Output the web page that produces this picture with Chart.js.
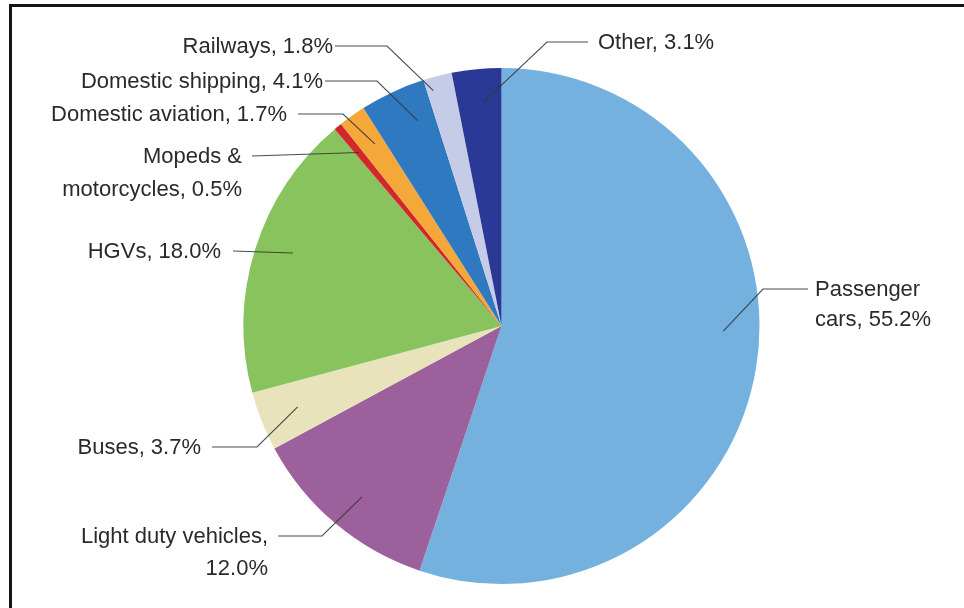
<!DOCTYPE html>
<html>
<head>
<meta charset="utf-8">
<script src="https://cdn.jsdelivr.net/npm/chart.js@4"></script>
<style>
  body { margin: 0; background: #fff; overflow: hidden; }
  #wrap { position: relative; width: 964px; height: 608px; }
  #frame { position: absolute; left: 9px; top: 4px; width: 970px; height: 620px;
           border-top: 3px solid #151515; border-left: 3px solid #151515; }
  canvas { position: absolute; left: 0; top: 0; }
</style>
</head>
<body>
<div id="wrap">
  <canvas id="myChart" width="964" height="608"></canvas>
  <div id="frame"></div>
</div>
<script>
// transport emissions share by mode, clockwise from 12 o'clock
var categories = ["Passenger cars", "Light duty vehicles", "Buses", "HGVs", "Mopeds & motorcycles",
                  "Domestic aviation", "Domestic shipping", "Railways", "Other"];
var shares = [55.2, 12.0, 3.7, 18.0, 0.5, 1.7, 4.1, 1.8, 3.1];
var sliceColors = ["#74b1df", "#9c619c", "#e8e3ba", "#88c35e", "#d3282b",
                   "#f4a83a", "#2f79c0", "#c6cbe8", "#2a3896"];

// label text lines per slice
var labelLines = [
  ["Passenger", "cars, " + shares[0].toFixed(1) + "%"],
  ["Light duty vehicles,", shares[1].toFixed(1) + "%"],
  ["Buses, " + shares[2].toFixed(1) + "%"],
  ["HGVs, " + shares[3].toFixed(1) + "%"],
  ["Mopeds &", "motorcycles, " + shares[4].toFixed(1) + "%"],
  ["Domestic aviation, " + shares[5].toFixed(1) + "%"],
  ["Domestic shipping, " + shares[6].toFixed(1) + "%"],
  ["Railways, " + shares[7].toFixed(1) + "%"],
  ["Other, " + shares[8].toFixed(1) + "%"]
];

// where each callout sits: t = position across the slice, rf = fraction of radius,
// elbow = bend of the leader, lineEnd/textX = end of leader and text anchor, textY = line centres
var calloutLayout = [
  {t: 0.46, rf: 0.86, elbow: [763, 288], lineEnd: 808, textX: 815, textY: [290, 320], side: "right"},
  {t: 0.48, rf: 0.855, elbow: [322, 537], lineEnd: 278, textX: 268, textY: [537, 569], side: "left"},
  {t: 0.50, rf: 0.85, elbow: [257, 448], lineEnd: 212, textX: 201, textY: [448], side: "left"},
  {t: 0.53, rf: 0.857, elbow: null, lineEnd: 233, textX: 221, textY: [252], side: "left"},
  {t: 0.50, rf: 0.87, elbow: null, lineEnd: 252, textX: 242, textY: [157, 190], side: "left"},
  {t: 0.60, rf: 0.86, elbow: [343, 115], lineEnd: 298, textX: 287, textY: [115], side: "left"},
  {t: 0.69, rf: 0.86, elbow: [377, 82], lineEnd: 325, textX: 323, textY: [82], side: "left"},
  {t: 0.23, rf: 0.95, elbow: [387, 47], lineEnd: 335, textX: 333, textY: [47], side: "left"},
  {t: 0.58, rf: 0.87, elbow: [547, 42], lineEnd: 588, textX: 598, textY: [43], side: "right"}
];

var calloutPlugin = {
  id: "callouts",
  afterDatasetsDraw: function (chart) {
    var ctx = chart.ctx;
    var arcs = chart.getDatasetMeta(0).data;
    ctx.save();
    ctx.font = "22px 'Liberation Sans', Arial, sans-serif";
    ctx.textBaseline = "middle";
    arcs.forEach(function (arc, i) {
      var lay = calloutLayout[i];
      var a = arc.startAngle + (arc.endAngle - arc.startAngle) * lay.t;
      var r = arc.outerRadius * lay.rf;
      var ax = arc.x + Math.cos(a) * r;
      var ay = arc.y + Math.sin(a) * r;
      var ly = lay.textY[0] - 1;
      ctx.strokeStyle = "rgba(55,55,55,0.9)";
      ctx.lineWidth = 1.1;
      ctx.beginPath();
      ctx.moveTo(lay.lineEnd, ly);
      if (lay.elbow) {
        ctx.lineTo(lay.elbow[0], ly);
      }
      ctx.lineTo(ax, ay);
      ctx.stroke();

      ctx.fillStyle = "#2a2a2a";
      ctx.textAlign = lay.side === "left" ? "right" : "left";
      labelLines[i].forEach(function (txt, k) {
        ctx.fillText(txt, lay.textX, lay.textY[k]);
      });
    });
    ctx.restore();
  }
};

new Chart("myChart", {
  type: "pie",
  data: {
    labels: categories,
    datasets: [{
      data: shares,
      backgroundColor: sliceColors,
      borderWidth: 0
    }]
  },
  options: {
    responsive: false,
    animation: false,
    layout: {padding: {top: 68, bottom: 24, left: 39, right: 0}},
    plugins: {
      legend: {display: false},
      tooltip: {enabled: false}
    }
  },
  plugins: [calloutPlugin]
});
</script>
</body>
</html>
